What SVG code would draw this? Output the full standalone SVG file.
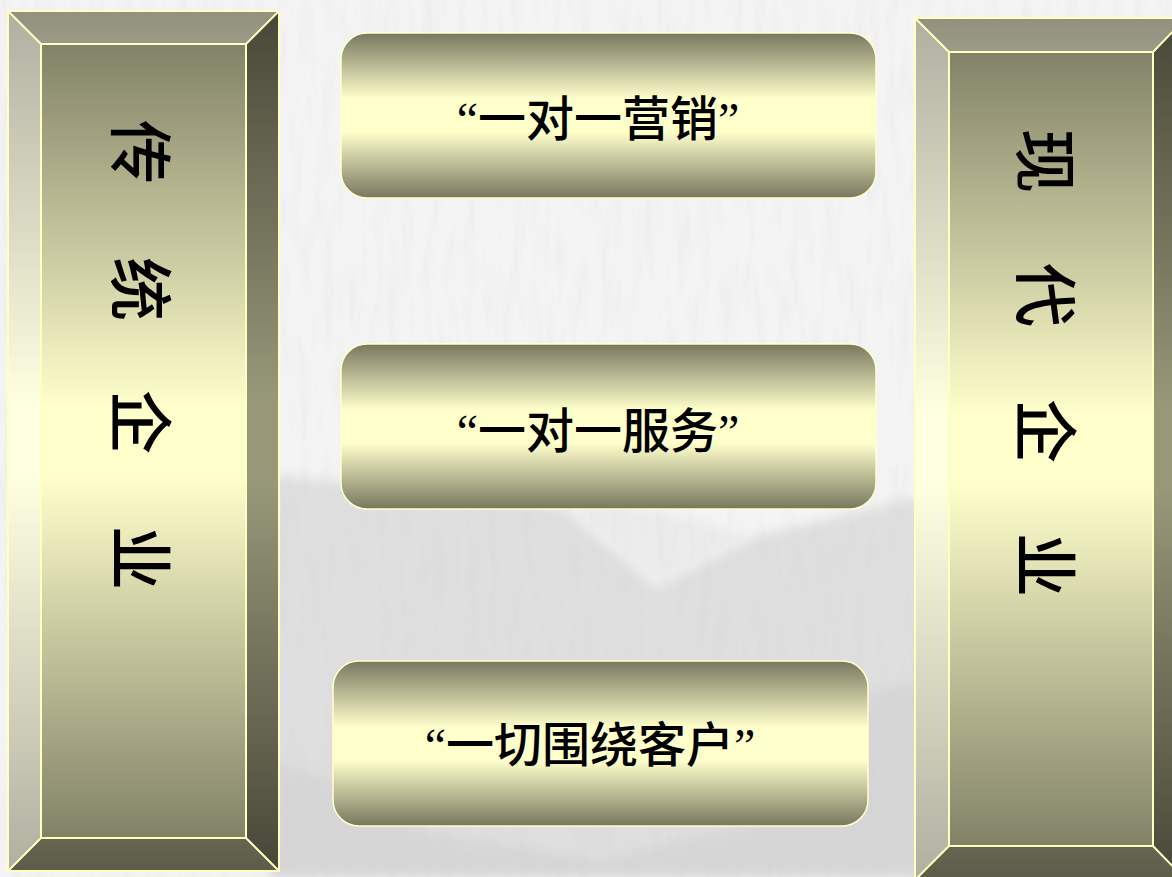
<svg xmlns="http://www.w3.org/2000/svg" width="1172" height="877" viewBox="0 0 1172 877">
  <defs>
    <linearGradient id="pg" x1="0" y1="0" x2="0" y2="1">
      <stop offset="0" stop-color="#76765e"/>
      <stop offset="0.46" stop-color="#ffffcc"/>
      <stop offset="0.54" stop-color="#ffffcc"/>
      <stop offset="1" stop-color="#76765e"/>
    </linearGradient>
    <linearGradient id="bg" x1="0" y1="0" x2="0" y2="1">
      <stop offset="0" stop-color="#77775f"/>
      <stop offset="0.40" stop-color="#ffffcc"/>
      <stop offset="0.60" stop-color="#ffffcc"/>
      <stop offset="1" stop-color="#77775f"/>
    </linearGradient>
    <filter id="tex" x="0" y="0" width="100%" height="100%">
      <feTurbulence type="fractalNoise" baseFrequency="0.09 0.015" numOctaves="4" seed="7"/>
      <feColorMatrix type="matrix" values="0 0 0 0 0.6  0 0 0 0 0.6  0 0 0 0 0.6  1.6 0 0 0 -0.7"/>
    </filter>
    <filter id="soft" x="-10%" y="-10%" width="120%" height="120%">
      <feGaussianBlur stdDeviation="6"/>
    </filter>
    <style>
      .edge { fill: none; stroke: #ffffc0; stroke-width: 2; }
      .box { fill: url(#bg); stroke: #ffffcc; stroke-width: 1.5; }
      .vt { font-family: 'Noto Sans CJK SC', sans-serif; font-size: 64px; font-weight: 500; fill: #000; }
      .ht { font-family: 'Liberation Serif', 'Noto Sans CJK SC', serif; font-size: 48px; font-weight: 500; fill: #000; }
    </style>
  </defs>

  <g id="background">
    <rect x="0" y="0" width="1172" height="877" fill="#f4f4f4"/>
    <polygon points="270,475 420,490 565,508 658,585 750,538 905,500 930,500 930,877 270,877" fill="#dfdfdf" filter="url(#soft)"/>
    <polygon points="565,508 658,585 750,538 700,520 620,505" fill="#ececec" filter="url(#soft)"/>
    <polygon points="270,760 330,780 420,830 600,860 760,820 870,690 930,680 930,877 270,877" fill="#cfcfcf" filter="url(#soft)" opacity="0.5"/>
    <rect x="0" y="0" width="1172" height="877" filter="url(#tex)" opacity="0.22"/>
  </g>

  <g id="left-panel">
    <rect x="8" y="11" width="271" height="860" fill="url(#pg)"/>
    <polygon points="8,11 279,11 246,44 41,44" fill="#fff" opacity="0.2"/>
    <polygon points="8,11 41,44 41,838 8,871" fill="#fff" opacity="0.42"/>
    <polygon points="279,11 246,44 246,838 279,871" fill="#000" opacity="0.4"/>
    <polygon points="8,871 41,838 246,838 279,871" fill="#000" opacity="0.22"/>
    <rect class="edge" x="8" y="11" width="271" height="860"/>
    <rect class="edge" x="41" y="44" width="205" height="794"/>
    <path class="edge" d="M8,11 L41,44 M279,11 L246,44 M8,871 L41,838 M279,871 L246,838"/>
    <text class="vt" transform="translate(117,0) rotate(90)" x="152 289 422 558" y="0" text-anchor="middle">传统企业</text>
  </g>

  <g id="right-panel">
    <rect x="915" y="18" width="271" height="862" fill="url(#pg)"/>
    <polygon points="915,18 1186,18 1153,52 949,52" fill="#fff" opacity="0.2"/>
    <polygon points="915,18 949,52 949,846 915,880" fill="#fff" opacity="0.42"/>
    <polygon points="1186,18 1153,52 1153,846 1186,880" fill="#000" opacity="0.4"/>
    <polygon points="915,880 949,846 1153,846 1186,880" fill="#000" opacity="0.22"/>
    <rect class="edge" x="915" y="18" width="271" height="862"/>
    <rect class="edge" x="949" y="52" width="204" height="794"/>
    <path class="edge" d="M915,18 L949,52 M1186,18 L1153,52 M915,880 L949,846 M1186,880 L1153,846"/>
    <text class="vt" transform="translate(1022,0) rotate(90)" x="161 295 431 565" y="0" text-anchor="middle">现代企业</text>
  </g>

  <g id="box-marketing">
    <rect class="box" x="341" y="33" width="535" height="165" rx="26" ry="26"/>
    <text class="ht" x="598" y="136" text-anchor="middle">“一对一营销”</text>
  </g>

  <g id="box-service">
    <rect class="box" x="341" y="344" width="535" height="165" rx="26" ry="26"/>
    <text class="ht" x="598" y="448" text-anchor="middle">“一对一服务”</text>
  </g>

  <g id="box-customer">
    <rect class="box" x="333" y="661" width="535" height="165" rx="26" ry="26"/>
    <text class="ht" x="590" y="762" text-anchor="middle">“一切围绕客户”</text>
  </g>

  <g id="connectors"></g>
</svg>
